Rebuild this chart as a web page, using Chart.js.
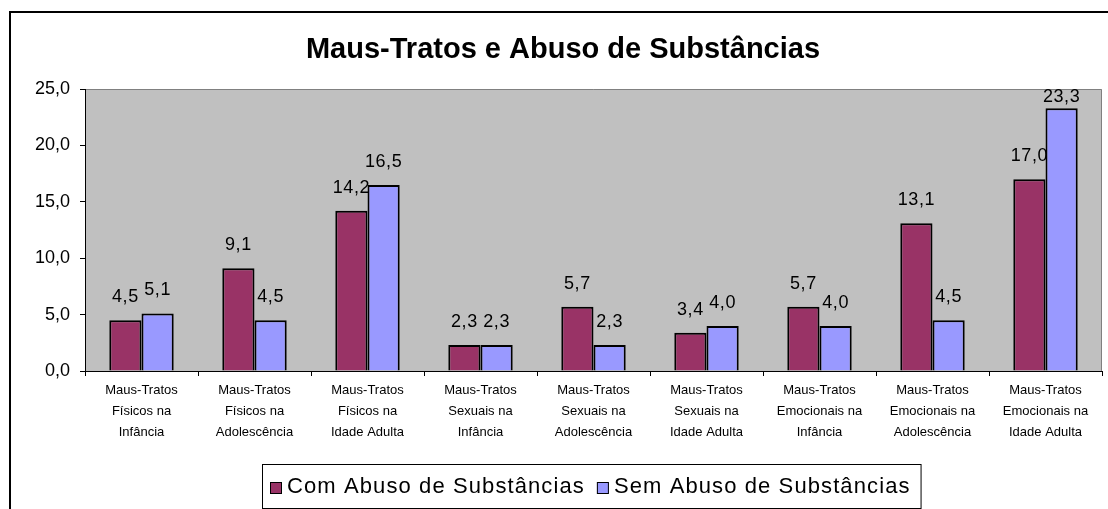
<!DOCTYPE html>
<html>
<head>
<meta charset="utf-8">
<script src="https://cdn.jsdelivr.net/npm/chart.js@4.4.1/dist/chart.umd.min.js"></script>
<style>
  html, body { margin: 0; padding: 0; background: #fff; }
  #wrap { width: 1108px; height: 509px; position: relative; }
  canvas { display: block; }
</style>
</head>
<body>
<div id="wrap"><canvas id="c" width="1108" height="509"></canvas></div>
<script>
const categories = [
  ["Maus-Tratos", "Físicos na", "Infância"],
  ["Maus-Tratos", "Físicos na", "Adolescência"],
  ["Maus-Tratos", "Físicos na", "Idade Adulta"],
  ["Maus-Tratos", "Sexuais na", "Infância"],
  ["Maus-Tratos", "Sexuais na", "Adolescência"],
  ["Maus-Tratos", "Sexuais na", "Idade Adulta"],
  ["Maus-Tratos", "Emocionais na", "Infância"],
  ["Maus-Tratos", "Emocionais na", "Adolescência"],
  ["Maus-Tratos", "Emocionais na", "Idade Adulta"]
];
const comAbuso = [4.5, 9.1, 14.2, 2.3, 5.7, 3.4, 5.7, 13.1, 17.0];
const semAbuso = [5.1, 4.5, 16.5, 2.3, 2.3, 4.0, 4.0, 4.5, 23.3];
const yTicks = [0, 5, 10, 15, 20, 25];
const seriesNames = ["Com Abuso de Substâncias", "Sem Abuso de Substâncias"];
const seriesColors = ["#993366", "#9999FF"];
const titleText = "Maus-Tratos e Abuso de Substâncias";

const fmt = v => v.toFixed(1).replace('.', ',');

const framePlugin = {
  id: 'frame',
  beforeDraw(chart) {
    const ctx = chart.ctx;
    const a = chart.chartArea;
    ctx.save();
    ctx.fillStyle = '#ffffff';
    ctx.fillRect(0, 0, chart.width, chart.height);
    ctx.strokeStyle = '#000000';
    ctx.lineWidth = 2;
    ctx.strokeRect(10, 12, 1200, 700);
    ctx.fillStyle = '#C0C0C0';
    ctx.fillRect(a.left, a.top, a.right - a.left, a.bottom - a.top);
    ctx.strokeStyle = '#808080';
    ctx.lineWidth = 1;
    ctx.beginPath();
    ctx.moveTo(a.left, a.top + 0.5);
    ctx.lineTo(a.right - 0.5, a.top + 0.5);
    ctx.lineTo(a.right - 0.5, a.bottom);
    ctx.stroke();
    ctx.restore();
  }
};

const labelPlugin = {
  id: 'valueLabels',
  afterDatasetsDraw(chart) {
    const ctx = chart.ctx;
    const top = chart.chartArea.top;
    ctx.save();
    ctx.font = '18px "Liberation Sans", Arial, sans-serif';
    try { ctx.letterSpacing = '0.6px'; } catch (e) {}
    ctx.fillStyle = '#000';
    ctx.textAlign = 'center';
    ctx.textBaseline = 'alphabetic';
    chart.data.datasets.forEach((ds, di) => {
      const meta = chart.getDatasetMeta(di);
      meta.data.forEach((bar, i) => {
        const y = Math.max(bar.y - 18, top + 13);
        ctx.fillText(fmt(ds.data[i]), bar.x, y);
      });
    });
    ctx.restore();
  }
};

const legendPlugin = {
  id: 'boxLegend',
  afterDraw(chart) {
    const ctx = chart.ctx;
    ctx.save();
    ctx.font = '22px "Liberation Sans", Arial, sans-serif';
    try { ctx.letterSpacing = '1.1px'; } catch (e) {}
    const sq = 12, gap1 = 5, gap2 = 12;
    const w0 = ctx.measureText(seriesNames[0]).width;
    const w1 = ctx.measureText(seriesNames[1]).width;
    const inner = sq + gap1 + w0 + gap2 + sq + gap1 + w1;
    const boxL = 262, boxT = 464, boxB = 508;
    const boxR = boxL + 8 + inner + 10;
    ctx.strokeStyle = '#000';
    ctx.lineWidth = 1;
    ctx.fillStyle = '#fff';
    ctx.fillRect(boxL, boxT, boxR - boxL, boxB - boxT);
    ctx.strokeRect(boxL + 0.5, boxT + 0.5, boxR - boxL, boxB - boxT);
    const cy = 487;
    let x = boxL + 8;
    [0, 1].forEach(i => {
      ctx.fillStyle = seriesColors[i];
      ctx.fillRect(x, cy - 5, sq, sq);
      ctx.strokeStyle = '#000';
      ctx.strokeRect(x + 0.5, cy - 4.5, sq - 1, sq - 1);
      x += sq + gap1;
      ctx.fillStyle = '#000';
      ctx.textBaseline = 'middle';
      ctx.textAlign = 'left';
      ctx.fillText(seriesNames[i], x, cy);
      x += (i === 0 ? w0 : w1) + gap2;
    });
    ctx.restore();
  }
};

new Chart(document.getElementById('c'), {
  type: 'bar',
  data: {
    labels: categories,
    datasets: [
      { label: seriesNames[0], data: comAbuso, backgroundColor: seriesColors[0], borderColor: '#000', borderWidth: 2, borderSkipped: 'bottom' },
      { label: seriesNames[1], data: semAbuso, backgroundColor: seriesColors[1], borderColor: '#000', borderWidth: 2, borderSkipped: 'bottom' }
    ]
  },
  options: {
    responsive: false,
    animation: false,
    devicePixelRatio: 1,
    layout: { padding: { left: 24, right: 6, top: 0, bottom: 0 } },
    datasets: { bar: { categoryPercentage: 0.57, barPercentage: 1.0 } },
    plugins: {
      legend: { display: false },
      tooltip: { enabled: false },
      title: {
        display: true,
        text: titleText,
        color: '#000',
        font: { family: '"Liberation Sans", Arial, sans-serif', size: 29, weight: 'bold', lineHeight: 1.2 },
        padding: { top: 33, bottom: 21.2 }
      }
    },
    scales: {
      x: {
        grid: { display: true, drawOnChartArea: false, drawTicks: true, tickLength: 5, color: '#000', offset: true },
        border: { display: true, color: '#000', width: 1 },
        ticks: {
          color: '#000',
          maxRotation: 0,
          autoSkip: false,
          padding: 4,
          font: { family: '"Liberation Sans", Arial, sans-serif', size: 13, lineHeight: 1.62 }
        },
        afterFit(s) { s.height = 138; }
      },
      y: {
        min: 0,
        max: 25,
        afterBuildTicks(s) { s.ticks = yTicks.map(v => ({ value: v })); },
        grid: { display: true, drawOnChartArea: false, drawTicks: true, tickLength: 5, color: '#000' },
        border: { display: true, color: '#000', width: 1 },
        ticks: {
          color: '#000',
          padding: 10,
          font: { family: '"Liberation Sans", Arial, sans-serif', size: 18 },
          callback: v => fmt(v)
        },
        afterFit(s) { s.width = 61; }
      }
    }
  },
  plugins: [framePlugin, labelPlugin, legendPlugin]
});
</script>
</body>
</html>
